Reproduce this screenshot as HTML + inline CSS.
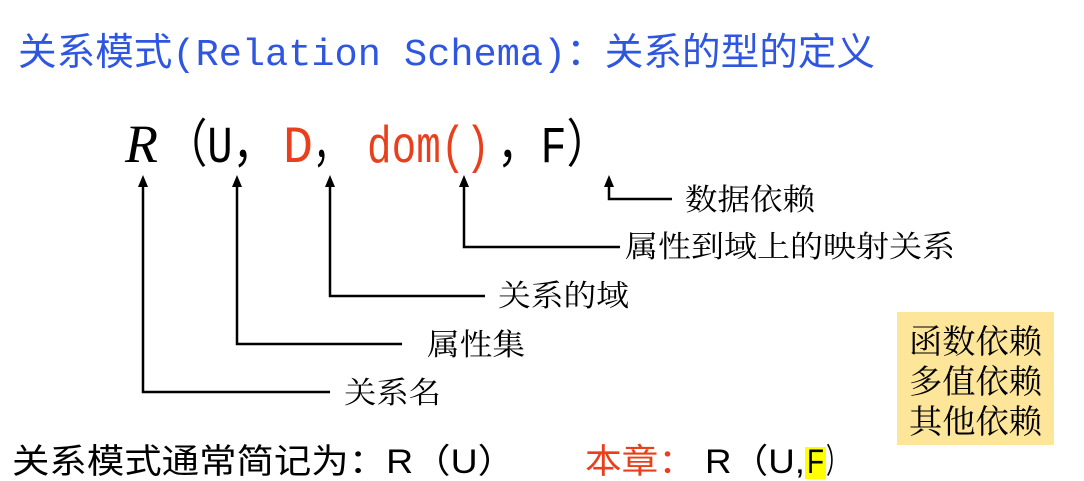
<!DOCTYPE html>
<html><head><meta charset="utf-8"><style>
html,body{margin:0;padding:0;background:#fff;width:1084px;height:481px;overflow:hidden}
svg{display:block}
text{font-family:"Liberation Serif","Noto Serif CJK SC","Noto Sans CJK SC",serif}
.m{font-family:"Liberation Mono","Noto Sans CJK SC",monospace}
.c{font-family:"Liberation Sans","Noto Sans CJK SC",sans-serif}
</style></head><body>
<svg width="1084" height="481" viewBox="0 0 1084 481">
<text x="18" y="65" font-size="38" fill="#2f56e0" class="m" textLength="857" lengthAdjust="spacingAndGlyphs">关系模式(Relation Schema)：关系的型的定义</text>

<text x="125" y="162" font-size="54" font-style="italic" font-family="Liberation Serif" textLength="33" lengthAdjust="spacingAndGlyphs">R</text>
<text x="165" y="162" font-size="52" class="m" textLength="110" lengthAdjust="spacingAndGlyphs">（U，</text>
<text x="283" y="162" font-size="52" class="m" fill="#e8401c" textLength="30" lengthAdjust="spacingAndGlyphs">D</text>
<text x="313" y="162" font-size="52" class="m" textLength="35" lengthAdjust="spacingAndGlyphs">，</text>
<text x="367" y="162" font-size="52" class="m" fill="#e8401c" textLength="123" lengthAdjust="spacingAndGlyphs">dom()</text>
<text x="497" y="162" font-size="52" class="m" textLength="113" lengthAdjust="spacingAndGlyphs">，F）</text>

<g stroke="#000" stroke-width="2.5" fill="none">
<path d="M143,185 V392 H330"/>
<path d="M237,185 V344 H402"/>
<path d="M330,185 V296 H485"/>
<path d="M464,185 V247 H620"/>
<path d="M609,185 V199 H672"/>
</g>
<g fill="#000">
<polygon points="143,175 138,187 148,187"/>
<polygon points="237,175 232,187 242,187"/>
<polygon points="330,175 325,187 335,187"/>
<polygon points="464,175 459,187 469,187"/>
<polygon points="609,175 604,187 614,187"/>
</g>
<g font-size="30" class="c">
<text x="685" y="210" textLength="130" lengthAdjust="spacingAndGlyphs">数据依赖</text>
<text x="625" y="257" textLength="330" lengthAdjust="spacingAndGlyphs">属性到域上的映射关系</text>
<text x="498" y="306" textLength="131" lengthAdjust="spacingAndGlyphs">关系的域</text>
<text x="427" y="355" textLength="98" lengthAdjust="spacingAndGlyphs">属性集</text>
<text x="344" y="403" textLength="97" lengthAdjust="spacingAndGlyphs">关系名</text>
</g>
<rect x="897" y="312" width="157" height="133" fill="#fde59a"/>
<g font-size="33" class="c">
<text x="909" y="353" textLength="133" lengthAdjust="spacingAndGlyphs">函数依赖</text>
<text x="909" y="393" textLength="133" lengthAdjust="spacingAndGlyphs">多值依赖</text>
<text x="909" y="433" textLength="133" lengthAdjust="spacingAndGlyphs">其他依赖</text>
</g>
<text x="12" y="473" font-size="34" class="c" textLength="503" lengthAdjust="spacingAndGlyphs">关系模式通常简记为：R（U）</text>
<text x="585" y="473" font-size="34" class="c" fill="#e8401c" textLength="110" lengthAdjust="spacingAndGlyphs">本章：</text>
<rect x="805" y="447" width="21" height="32" fill="#ffff00"/>
<text x="705" y="473" font-size="34" class="c" textLength="100" lengthAdjust="spacingAndGlyphs">R（U,</text>
<text x="807" y="473" font-size="34" class="c" textLength="17" lengthAdjust="spacingAndGlyphs">F</text>
<text x="826" y="473" font-size="34" class="c" textLength="22" lengthAdjust="spacingAndGlyphs">）</text>
</svg>
</body></html>
